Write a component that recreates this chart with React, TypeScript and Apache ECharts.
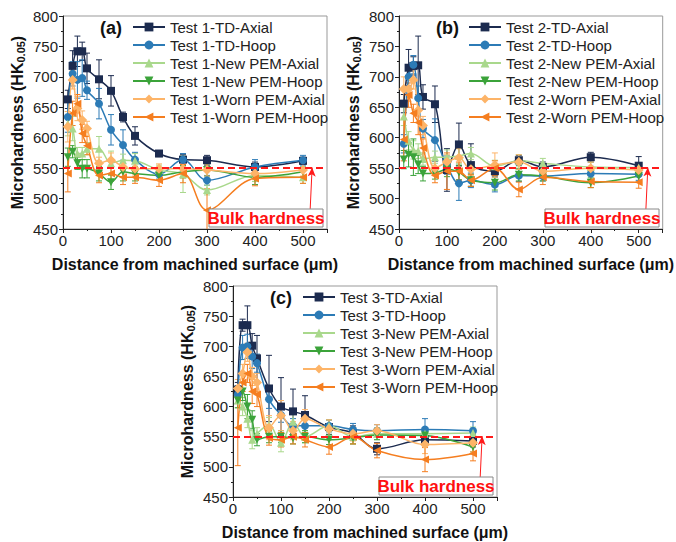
import React, { useEffect, useRef } from "react";
import * as echarts from "echarts";

const X = [10, 20, 30, 40, 50, 75, 100, 125, 150, 200, 250, 300, 400, 500];
const KINDS = ["TD-Axial", "TD-Hoop", "New PEM-Axial", "New PEM-Hoop", "Worn PEM-Axial", "Worn PEM-Hoop"];

// Panel (a) – Test 1
const a_tdAx = [663, 718, 742, 742, 714, 696, 677, 634, 603, 574, 564, 563, 552, 562];
const a_tdAxErr = [15, 25, 25, 15, 25, 32, 25, 8, 15, 5, 8, 8, 8, 6];
const a_tdHp = [634, 705, 695, 698, 678, 656, 613, 588, 564, 540, 564, 530, 552, 563];
const a_tdHpErr = [25, 20, 30, 30, 15, 25, 25, 25, 12, 8, 10, 8, 12, 8];
const a_newAx = [623, 615, 574, 574, 582, 582, 558, 563, 562, 547, 540, 514, 538, 535];
const a_newAxErr = [20, 20, 10, 10, 10, 20, 20, 10, 12, 8, 30, 8, 10, 10];
const a_newHp = [568, 577, 558, 549, 549, 541, 527, 544, 541, 538, 544, 547, 535, 544];
const a_newHpErr = [15, 10, 10, 15, 15, 12, 12, 15, 12, 8, 10, 10, 12, 8];
const a_wornAx = [618, 695, 648, 629, 615, 558, 563, 552, 549, 549, 549, 547, 541, 547];
const a_wornAxErr = [25, 15, 20, 15, 12, 10, 12, 10, 10, 8, 15, 10, 10, 10];
const a_wornHp = [541, 640, 656, 607, 587, 538, 541, 535, 535, 530, 541, 481, 533, 535];
const a_wornHpErr = [30, 20, 15, 15, 15, 12, 12, 12, 10, 10, 15, 35, 12, 10];

// Panel (b) – Test 2
const b_tdAx = [656, 715, 718, 719, 667, 655, 547, 589, 555, 545, 563, 552, 568, 554];
const b_tdAxErr = [15, 30, 15, 48, 20, 30, 35, 35, 35, 8, 8, 8, 8, 15];
const b_tdHp = [590, 700, 720, 665, 615, 596, 555, 525, 530, 523, 538, 537, 541, 540];
const b_tdHpErr = [15, 20, 15, 20, 15, 35, 15, 28, 12, 12, 10, 8, 12, 10];
const b_newAx = [635, 595, 580, 578, 565, 568, 568, 570, 574, 553, 562, 558, 552, 551];
const b_newAxErr = [15, 15, 15, 12, 10, 10, 12, 12, 10, 10, 10, 8, 8, 8];
const b_newHp = [564, 572, 568, 556, 541, 542, 548, 543, 530, 526, 539, 537, 526, 537];
const b_newHpErr = [15, 20, 30, 15, 12, 10, 12, 12, 10, 12, 10, 8, 8, 10];
const b_wornAx = [680, 680, 695, 645, 620, 550, 560, 567, 548, 555, 560, 545, 550, 547];
const b_wornAxErr = [20, 20, 15, 20, 15, 12, 12, 15, 10, 20, 12, 10, 10, 10];
const b_wornHp = [597, 670, 640, 625, 583, 538, 545, 545, 530, 550, 515, 535, 528, 527];
const b_wornHpErr = [35, 20, 15, 20, 15, 12, 30, 15, 10, 12, 12, 12, 10, 10];

// Panel (c) – Test 3
const c_tdAx = [628, 735, 735, 701, 680, 630, 600, 592, 586, 566, 556, 530, 545, 543];
const c_tdAxErr = [12, 10, 32, 20, 38, 55, 48, 37, 32, 12, 12, 10, 10, 10];
const c_tdHp = [620, 698, 700, 683, 672, 612, 586, 568, 568, 568, 562, 560, 562, 560];
const c_tdHpErr = [15, 20, 20, 20, 15, 15, 12, 12, 12, 10, 10, 10, 18, 15];
const c_newAx = [610, 600, 580, 545, 555, 570, 540, 575, 550, 568, 550, 555, 555, 556];
const c_newAxErr = [12, 15, 15, 15, 10, 12, 15, 12, 10, 10, 12, 10, 10, 10];
const c_newHp = [610, 625, 600, 578, 545, 550, 550, 548, 550, 545, 548, 553, 552, 533];
const c_newHpErr = [12, 15, 20, 15, 10, 10, 10, 10, 10, 8, 10, 8, 10, 8];
const c_wornAx = [630, 655, 690, 650, 640, 565, 585, 560, 580, 563, 555, 560, 537, 540];
const c_wornAxErr = [15, 15, 15, 15, 15, 20, 25, 15, 15, 15, 12, 10, 15, 15];
const c_wornHp = [565, 640, 655, 625, 620, 548, 545, 550, 545, 533, 550, 527, 512, 522];
const c_wornHpErr = [63, 15, 15, 20, 20, 12, 12, 12, 12, 12, 12, 12, 20, 12];

const BULK = 550;

const COLORS = ["#1c2b4f", "#2c7bb6", "#a9d88c", "#3ba33a", "#fdb468", "#f57e20"];
const SYMBOLS = ["rect", "circle", "triangle", "triangle", "diamond", "triangle"];
const ROT = [0, 0, 0, 180, 0, 90];

const PANELS = [
  { label: "(a)", test: 1, vals: [a_tdAx, a_tdHp, a_newAx, a_newHp, a_wornAx, a_wornHp], errs: [a_tdAxErr, a_tdHpErr, a_newAxErr, a_newHpErr, a_wornAxErr, a_wornHpErr] },
  { label: "(b)", test: 2, vals: [b_tdAx, b_tdHp, b_newAx, b_newHp, b_wornAx, b_wornHp], errs: [b_tdAxErr, b_tdHpErr, b_newAxErr, b_newHpErr, b_wornAxErr, b_wornHpErr] },
  { label: "(c)", test: 3, vals: [c_tdAx, c_tdHp, c_newAx, c_newHp, c_wornAx, c_wornHp], errs: [c_tdAxErr, c_tdHpErr, c_newAxErr, c_newHpErr, c_wornAxErr, c_wornHpErr] },
];

const GRIDS = [
  { left: 63, top: 16, width: 264, height: 213 },
  { left: 399, top: 16, width: 264, height: 213 },
  { left: 233, top: 286, width: 264, height: 211 },
];

const FONT = 'Arial, "Liberation Sans", sans-serif';

export default function App() {
  const ref = useRef<HTMLDivElement>(null);
  useEffect(() => {
    if (!ref.current) return;
    const chart = echarts.init(ref.current, undefined, { renderer: "svg" });
    const xAxis: any[] = [];
    const yAxis: any[] = [];
    const series: any[] = [];
    const legend: any[] = [];
    const graphic: any[] = [];

    PANELS.forEach((p, gi) => {
      const g = GRIDS[gi];
      xAxis.push({
        type: "value", gridIndex: gi, min: 0, max: 550, interval: 100,
        name: "Distance from machined surface (μm)", nameLocation: "middle", nameGap: 27,
        nameTextStyle: { fontSize: 16, fontWeight: "bold", color: "#111", fontFamily: FONT },
        axisLine: { show: true, onZero: false, lineStyle: { color: "#222", width: 1 } },
        axisTick: { show: true, inside: false, length: 4, lineStyle: { color: "#222" } },
        minorTick: { show: true, splitNumber: 2, length: 2, lineStyle: { color: "#222" } },
        axisLabel: { fontSize: 15, color: "#222", margin: 4, fontFamily: FONT, formatter: (v: number) => (v > 500 ? "" : String(v)) },
        splitLine: { show: false },
      });
      yAxis.push({
        type: "value", gridIndex: gi, min: 450, max: 800, interval: 50,
        name: "{a|Microhardness (HK}{b|0.05}{a|)}", nameLocation: "middle", nameGap: 36,
        nameTextStyle: {
          color: "#111", fontFamily: FONT,
          rich: {
            a: { fontSize: 16, fontWeight: "bold", color: "#111", fontFamily: FONT, lineHeight: 20 },
            b: { fontSize: 11, fontWeight: "bold", color: "#111", fontFamily: FONT, lineHeight: 20, padding: [8, 0, 0, 0] },
          },
        },
        axisLine: { show: true, onZero: false, lineStyle: { color: "#222", width: 1 } },
        axisTick: { show: true, inside: false, length: 4, lineStyle: { color: "#222" } },
        minorTick: { show: true, splitNumber: 2, length: 2, lineStyle: { color: "#222" } },
        axisLabel: { fontSize: 15, color: "#222", margin: 5, fontFamily: FONT },
        splitLine: { show: false },
      });

      const names = KINDS.map((k) => `Test ${p.test}-${k}`);
      // error bars
      p.vals.forEach((vals, si) => {
        series.push({
          type: "custom", name: `err-${gi}-${si}`, xAxisIndex: gi, yAxisIndex: gi, clip: true, z: 2,
          data: X.map((x, i) => [x, vals[i] - p.errs[si][i], vals[i] + p.errs[si][i]]),
          renderItem: (params: any, api: any) => {
            const x = api.value(0);
            const lo = api.coord([x, api.value(1)]);
            const hi = api.coord([x, api.value(2)]);
            const w = 3;
            const st = { stroke: COLORS[si], lineWidth: 1 };
            return {
              type: "group",
              children: [
                { type: "line", shape: { x1: lo[0], y1: lo[1], x2: hi[0], y2: hi[1] }, style: st },
                { type: "line", shape: { x1: lo[0] - w, y1: lo[1], x2: lo[0] + w, y2: lo[1] }, style: st },
                { type: "line", shape: { x1: hi[0] - w, y1: hi[1], x2: hi[0] + w, y2: hi[1] }, style: st },
              ],
            };
          },
        });
      });
      p.vals.forEach((vals, si) => {
        const s: any = {
          type: "line", name: names[si], xAxisIndex: gi, yAxisIndex: gi, z: 3,
          data: X.map((x, i) => [x, vals[i]]),
          smooth: 0.35, symbol: SYMBOLS[si], symbolRotate: ROT[si], symbolSize: si === 4 ? 10 : 8,
          lineStyle: { color: COLORS[si], width: 1.5 },
          itemStyle: { color: COLORS[si] },
        };
        if (si === 0) {
          s.markLine = {
            silent: true, animation: false,
            data: [
              [
                { coord: [0, BULK], symbol: "none", lineStyle: { color: "#ff1a1a", type: [7, 4], width: 2 } },
                { coord: [550, BULK], symbol: "none" },
              ],
              [
                { coord: [515, 483], symbol: "none", lineStyle: { color: "#ff1a1a", type: "solid", width: 1 } },
                { coord: [519, 551], symbol: "arrow", symbolSize: [6, 9] },
              ],
            ],
            label: { show: false },
          };
        }
        series.push(s);
      });

      legend.push({
        data: names, left: g.left + 64, top: g.top - 2, orient: "vertical",
        itemWidth: 32, itemHeight: 11, itemGap: 2,
        textStyle: { fontSize: 15, color: "#222", fontFamily: FONT, lineHeight: 16 },
        selectedMode: false,
      });
      graphic.push({
        type: "text", x: g.left + 37, y: g.top + 3,
        style: { text: p.label, font: `bold 18px ${FONT}`, fill: "#111" },
      });
      graphic.push({
        type: "rect", shape: { x: g.left + 146, y: g.top + g.height - 20, width: 114, height: 18 },
        style: { fill: "#fff", stroke: "#888", lineWidth: 1 }, z: 10,
      });
      graphic.push({
        type: "text", x: g.left + 146 + 57, y: g.top + g.height - 11,
        style: { text: "Bulk hardness", font: `bold 17px ${FONT}`, fill: "#ff1010", textAlign: "center", textVerticalAlign: "middle" },
        z: 11,
      });
    });

    chart.setOption({
      animation: false,
      backgroundColor: "#fff",
      grid: GRIDS.map((g) => ({ ...g, show: true, borderColor: "#999", borderWidth: 1, backgroundColor: "transparent" })),
      xAxis, yAxis, series, legend, graphic,
    });
    return () => chart.dispose();
  }, []);
  return <div ref={ref} style={{ position: "fixed", left: 0, top: 0, width: 676, height: 542, background: "#fff" }} />;
}
